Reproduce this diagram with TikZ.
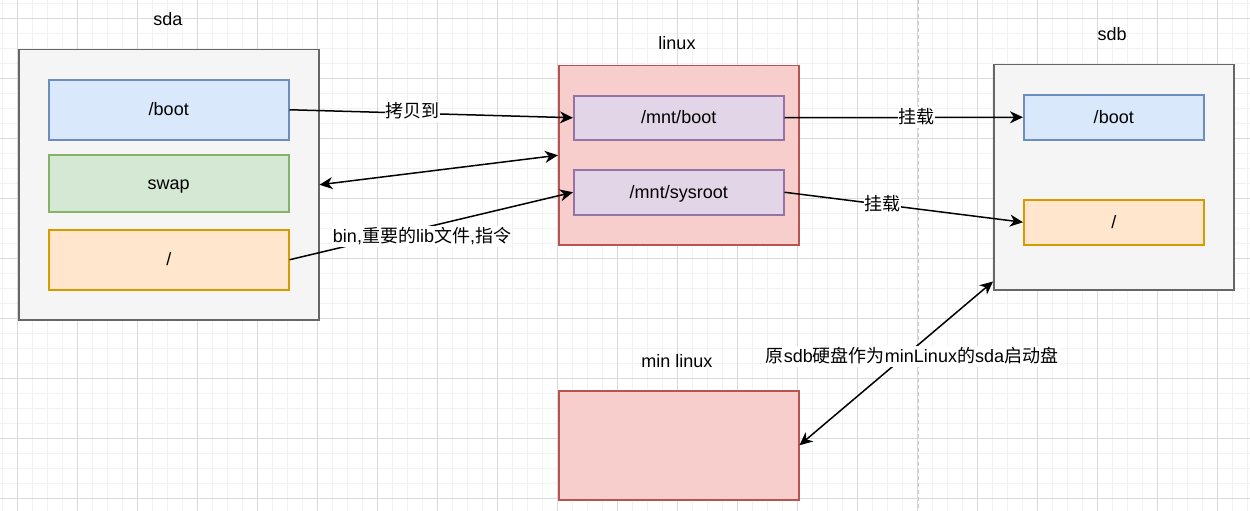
\documentclass[tikz,border=0pt]{standalone}
\usepackage{fontspec}
\setmainfont{Liberation Sans}
\newfontfamily\cjk{Noto Sans CJK SC}
\usetikzlibrary{arrows.meta}
\definecolor{grayfill}{HTML}{F5F5F5}
\definecolor{graydraw}{HTML}{666666}
\definecolor{bluefill}{HTML}{DAE8FC}
\definecolor{bluedraw}{HTML}{6C8EBF}
\definecolor{greenfill}{HTML}{D5E8D4}
\definecolor{greendraw}{HTML}{82B366}
\definecolor{orangefill}{HTML}{FFE6CC}
\definecolor{orangedraw}{HTML}{D79B00}
\definecolor{redfill}{HTML}{F8CECC}
\definecolor{reddraw}{HTML}{B85450}
\definecolor{purplefill}{HTML}{E1D5E7}
\definecolor{purpledraw}{HTML}{9673A6}
\definecolor{minorgridc}{HTML}{F2F2F2}
\definecolor{majorgridc}{HTML}{DADADA}
\definecolor{sepc}{HTML}{C8C8C8}
\begin{document}
\begin{tikzpicture}[x=1pt,y=-1pt,
  txt/.style={font=\fontsize{18}{22}\selectfont, text=black, text height=16pt, text depth=4pt},
  box/.style={txt, rectangle, anchor=north west, line width=1.5pt, inner sep=0pt},
  graybox/.style={box, fill=grayfill, draw=graydraw},
  bluebox/.style={box, fill=bluefill, draw=bluedraw},
  greenbox/.style={box, fill=greenfill, draw=greendraw},
  orangebox/.style={box, fill=orangefill, draw=orangedraw},
  redbox/.style={box, fill=redfill, draw=reddraw},
  purplebox/.style={box, fill=purplefill, draw=purpledraw},
  title/.style={txt, inner sep=0pt},
  elabel/.style={txt, fill=white, inner sep=0.5pt},
  conn/.style={line width=1.5pt, draw=black, -{Stealth[length=13pt,width=12pt,inset=4pt]}},
  biconn/.style={line width=1.5pt, draw=black, {Stealth[length=13pt,width=12pt,inset=4pt]}-{Stealth[length=13pt,width=12pt,inset=4pt]}},
  minorgrid/.style={draw=minorgridc, line width=1.2pt},
  majorgrid/.style={draw=majorgridc, line width=1pt},
  sepline/.style={draw=sepc, line width=1pt, dash pattern=on 4pt off 3pt}
]
\useasboundingbox[fill=white] (0,0) rectangle (1250,511);
% grid
\foreach \k in {0,...,83} \draw[minorgrid] ({2.5+15*\k},0) -- ({2.5+15*\k},511);
\foreach \k in {0,...,34} \draw[minorgrid] (0,{3.5+15*\k}) -- (1250,{3.5+15*\k});
\foreach \k in {0,...,20} \draw[majorgrid] ({17.5+60*\k},0) -- ({17.5+60*\k},511);
\foreach \k in {0,...,8} \draw[majorgrid] (0,{18.5+60*\k}) -- (1250,{18.5+60*\k});
% separator
\coordinate (septop) at (918,0);
\coordinate (sepbot) at (918,511);
\draw[sepline] (septop) -- (sepbot);

% sda
\node[graybox, minimum width=300pt, minimum height=270pt] (sda) at (18,49) {};
\node[title] (sdatitle) at (168,20) {sda};
\node[bluebox, minimum width=240pt, minimum height=60pt] (sdaboot) at (48,79) {/boot};
\node[greenbox, minimum width=240pt, minimum height=57pt] (sdaswap) at (48,154) {swap};
\node[orangebox, minimum width=240pt, minimum height=60pt] (sdaroot) at (48,229) {/};

% linux
\node[redbox, minimum width=240pt, minimum height=179pt] (linux) at (558,65) {};
\node[title] (linuxtitle) at (677,43) {linux};
\node[purplebox, minimum width=210pt, minimum height=44pt] (mntboot) at (573,95) {/mnt/boot};
\node[purplebox, minimum width=210pt, minimum height=45pt] (mntsys) at (573,169) {/mnt/sysroot};

% sdb
\node[graybox, minimum width=240pt, minimum height=225pt] (sdb) at (993,64) {};
\node[title] (sdbtitle) at (1112,35) {sdb};
\node[bluebox, minimum width=180pt, minimum height=45pt] (sdbboot) at (1023,94) {/boot};
\node[orangebox, minimum width=180pt, minimum height=45pt] (sdbroot) at (1023,199) {/};

% min linux
\node[redbox, minimum width=240pt, minimum height=109pt] (minlinux) at (558,390) {};
\node[title] (minlinuxtitle) at (677,361) {min linux};

% connectors
\draw[conn] (sdaboot.east) -- node[elabel, pos=0.435, yshift=2pt] (lblcopy) {{\cjk 拷贝到}} (mntboot.west);
\draw[biconn] (sda.east) -- (linux.west);
\draw[conn] (sdaroot.east) -- (mntsys.west);
\node[elabel] (lblbin) at (422,236) {bin,{\cjk 重要的}lib{\cjk 文件},{\cjk 指令}};
\draw[conn] (mntboot.east) -- node[elabel, pos=0.554] (lblmount1) {{\cjk 挂载}} (sdbboot.west);
\draw[conn] (mntsys.east) -- node[elabel, pos=0.41] (lblmount2) {{\cjk 挂载}} (sdbroot.west);
\coordinate (sdbcorner) at ([yshift=9pt]sdb.south west);
\draw[biconn] (sdbcorner) -- (minlinux.east);
\node[elabel] (lblboot) at (912,356) {{\cjk 原}sdb{\cjk 硬盘作为}minLinux{\cjk 的}sda{\cjk 启动盘}};
\end{tikzpicture}
\end{document}
